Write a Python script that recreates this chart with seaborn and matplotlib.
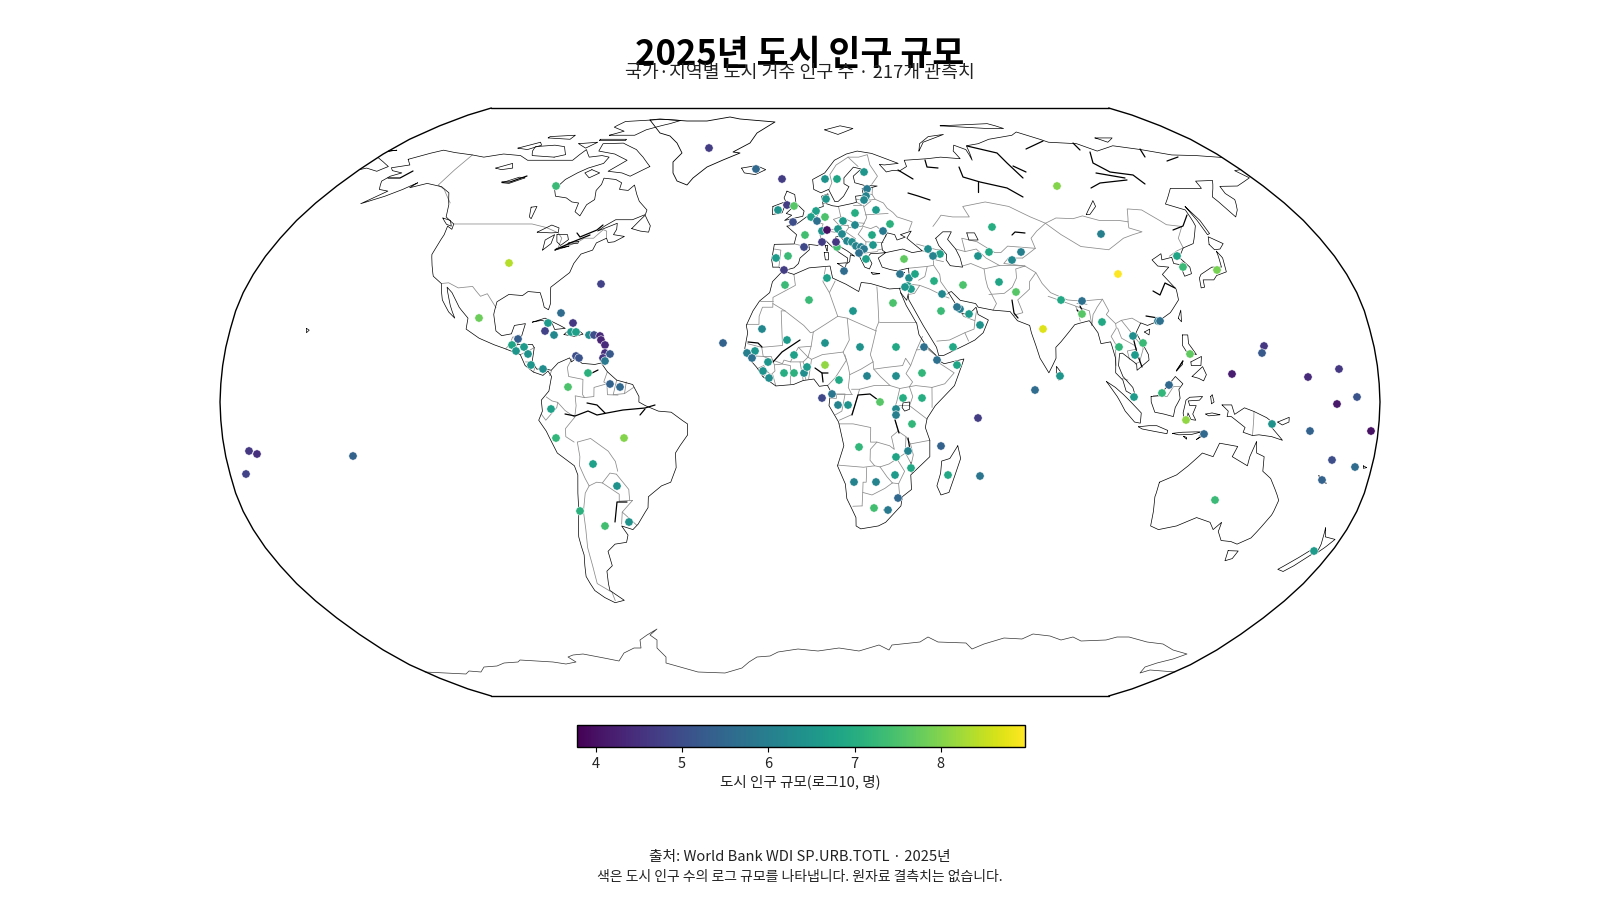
import numpy as np
import pandas as pd
import matplotlib
matplotlib.use("Agg")
import matplotlib.pyplot as plt
import seaborn as sns

sns.set_theme(style="white")
plt.rcParams['font.family'] = ['Noto Sans CJK KR', 'DejaVu Sans']

# Robinson table, 5 degree steps
rob_lat = np.arange(0, 95, 5)
rob_len = [1, .9986, .9954, .99, .9822, .973, .96, .9427, .9216, .8962, .8679, .835, .7986, .7597, .7186, .6732, .6213, .5722, .5322]
rob_dfe = [0, .062, .124, .186, .248, .31, .372, .434, .4958, .5571, .6176, .6769, .7346, .7903, .8435, .8936, .9394, .9761, 1]

# coastlines, lon/lat
americas = [[-166,68.3],[-160,70.3],[-156.5,71.3],[-150,70.5],[-141,69.7],[-135,69],[-128,70],[-120,69.5],[-115,68],[-108,68],[-100,68],[-96,68],[-94,71.5],[-90,69],[-85,69.5],[-81.5,69],[-82,67],[-87,65.5],[-90,64],[-93,62],[-94.5,59],[-92.5,57],[-88,56.5],[-85,55.3],[-82.3,55],[-82,52.5],[-79.5,51.3],[-79,54.5],[-77,56],[-78.3,58.7],[-77.5,60.5],[-78,62.4],[-73,62],[-70,61],[-69.5,59],[-66,58.7],[-64.5,60.3],[-62,57.5],[-60,55.5],[-56,53],[-56,51.7],[-60,50.2],[-66,50.2],[-69,48.5],[-71,47],[-65,49.2],[-64.5,47.5],[-65,46],[-61,45.5],[-64,44],[-66,43.8],[-67,45],[-70,43.7],[-70.5,41.7],[-74,40.6],[-75.5,38],[-76,35.5],[-78,33.9],[-81,31.5],[-80,27],[-80.3,25.3],[-81.8,26],[-82.8,28],[-84,30],[-88,30.3],[-89.5,29.2],[-94,29.5],[-97.3,27.5],[-97.5,24],[-96,19.5],[-94,18.2],[-91,18.7],[-90.4,21],[-87,21.5],[-87.7,18],[-88.7,15.8],[-84,15.8],[-83.3,14.9],[-83.6,11],[-82,9],[-80,9.2],[-77.5,8.7],[-75.5,10.7],[-72,12.1],[-71.3,11],[-70,12],[-68,10.6],[-64,10.3],[-62,10.7],[-60,8.3],[-57,6],[-52,4.8],[-50,1.5],[-50,0],[-48,-1],[-44,-2.5],[-40,-2.8],[-37,-4.8],[-35,-6],[-35,-9],[-37.5,-12],[-39,-14],[-39,-18],[-41,-22],[-44,-23],[-48.5,-26],[-49,-29],[-53,-33.5],[-55,-35],[-58.5,-34],[-57,-36.5],[-58,-38.5],[-62,-39],[-65,-41],[-65,-45],[-67.5,-46.5],[-68.5,-50],[-69,-52],[-65.2,-54.8],[-69,-55.5],[-72,-54],[-74.5,-52],[-75.5,-48],[-73.5,-42],[-73.5,-37],[-71.5,-30],[-70.2,-20],[-71,-17.5],[-76,-14],[-79,-8],[-81.2,-5],[-80,-2.5],[-80.3,0.5],[-78,3],[-77.3,7],[-78.5,8.5],[-80,7.3],[-83,8.2],[-85.7,10],[-87.5,13],[-92,14.5],[-96,15.7],[-101,17.5],[-105.5,20],[-105.5,23],[-109,26],[-112.5,30],[-114.7,31.5],[-112,26.5],[-109.7,23],[-112,24.7],[-115,28],[-117,32.5],[-120.5,34.5],[-122.5,37.5],[-124.3,40.5],[-124,46],[-124.7,48.4],[-122.5,47.5],[-123,49],[-127.5,51],[-130,54.5],[-134,58],[-139,59.8],[-146,60.8],[-151,59.5],[-150,61],[-153,59],[-157,57],[-163,54.8],[-158,58.5],[-162,59],[-165,61.5],[-164,63],[-161,64],[-166,64.7],[-168,65.6],[-162,66.5],[-166,68.3]]
eurasia_n = [[-9,37],[-9.5,39],[-8.8,43.3],[-2,43.4],[-1.2,46],[-4.7,48.4],[-1.6,48.7],[1.5,50.5],[4,52],[6,53.4],[8.6,54],[8.2,57],[10.6,57.7],[10.8,56],[9.8,54.8],[12,54.2],[14,54],[18.5,54.7],[21,55.2],[21,57],[24,57.3],[24,59.3],[28,59.6],[30,60],[25,60.2],[21.5,61],[21.3,63],[25,65.2],[22,65.8],[17.5,62.5],[17.2,60.7],[19,59.8],[16.5,57],[14.3,55.5],[13,55.4],[11,59],[8,58],[5.3,59],[5,62],[10,64],[14.5,68],[20,70],[25,71],[31,70.2],[41,67],[35,66.5],[33,66.7],[35,64.3],[38,64.8],[40.5,64.6],[44,66],[44,68],[54,68.5],[60,69],[68,68.5],[67,71],[69,73],[73,71.5],[72.7,68],[74.5,72.8],[80.5,73.5],[87,75],[100,76.5],[104,77.7],[113,74],[125,73.5],[130,71],[140,72.8],[150,71.5],[160,69.7],[170,69.5],[180,68.9]]
chukotka = [[-180,68.9],[-175,67.5],[-170,66],[-172,64.5],[-178,65.5],[-180,65]]
eurasia_e = [[180,65],[177,64.7],[179,62.5],[170,60],[163,59.9],[162,57.8],[163,56],[160,53],[157,51],[155.7,56.8],[163,61.7],[156,61.5],[155,59.3],[143,59.3],[135.5,54.7],[141,53],[140,48.5],[135,43.5],[130.7,42.3],[127.5,39.7],[129.5,37],[129,35.2],[126.4,34.5],[126.5,37.7],[124.7,38],[125,39.7],[121.3,39],[122,40.7],[118,39],[119,37.3],[122.5,37],[119.3,35],[122,31],[121.7,28],[118,24.5],[114,22.3],[110,21],[108,21.7],[106,19],[109,13],[109,11.5],[105,8.7],[105,10.4],[100.9,13.4],[100,13.3],[99.3,10],[100.5,7],[103.4,4],[104.2,1.5],[101.3,3],[100.4,6],[98.3,8],[98.6,12],[97.6,16.5],[94.5,16],[94,19],[91.8,22.3],[89,21.7],[87,21.2],[82,16.5],[80.2,15],[80,12],[77.5,8],[75,12],[73,19],[72.7,21],[69,22.3],[67,24.8],[61.6,25.2],[57,26],[56.3,27],[51.5,27.9],[49,30.3],[48,30],[50,26.7],[51.5,25.5],[51.6,24.2],[54,24.2],[56.3,26],[56.7,24],[59.8,22.5],[57.8,19],[55,17],[52,15.7],[45,12.8],[43.4,12.7],[42.8,15],[39,21],[35,28],[34.9,29.5],[34.3,27.9],[32.6,29.9]]
med_north = [[32.3,31.2],[34.3,31.3],[35.9,35],[36,36.7],[32,36],[30,36.3],[27.3,37],[26.3,39.5],[29,41],[35,42],[38,41],[41.5,41.5],[37,45],[39,47],[35,46],[36.5,45.3],[33.5,44.5],[33,46],[30.5,46.5],[28,43.5],[28,41.7],[29,41],[26.2,40.8],[24,40.8],[23,40],[24,38],[23,36.5],[21.5,37],[19.5,41],[19,42],[15,44.5],[13.7,45.6],[12.3,45.3],[12.5,44],[14,42.5],[16,41.5],[18.4,40],[17,40.4],[16.6,38.5],[15.7,38],[16,39.5],[12.5,41.5],[10.5,43],[8.8,44.4],[6,43],[3,43.3],[3.2,41.8],[0,39.5],[-0.5,38],[-2,36.8],[-5.5,36],[-7,37],[-9,37]]
africa = [[32.6,29.9],[34,26.5],[37,21.5],[37.5,18.5],[39.5,15.5],[43.2,12.2],[43,11.5],[45,10.5],[51.2,11.8],[48,4.5],[42,-1],[39.5,-4.5],[39,-7],[40.5,-10.5],[40.7,-15],[35,-20],[35.5,-24],[32.7,-26],[32.5,-28.5],[28,-33],[25.7,-34],[20,-34.8],[18.4,-34],[18.2,-31.7],[15,-26.5],[14.4,-22.5],[11.8,-17.5],[13.7,-12],[12,-5.5],[9,-1],[9.5,3],[8.5,4.6],[6,4.3],[4.3,6.3],[1,5.9],[-2,4.8],[-7.5,4.4],[-11.5,6.9],[-13.5,9.5],[-15,11],[-17.3,14.7],[-16.5,19],[-17,21],[-15,25],[-13,27.7],[-9.8,30],[-9,33],[-6,35.7],[-5.5,35.9],[-2,35],[3,36.8],[10,37.3],[10.7,34],[15,32.3],[19,30.3],[20,32.8],[23,32.5],[29,31],[32.3,31.2],[32.6,29.9]]
islands = [
    [[-62,66],[-68,63],[-72,64],[-78,64.5],[-73,68],[-80,70],[-88,71],[-89,73.5],[-80,73.7],[-72,71.5],[-67,69],[-62,66]],
    [[-105,69],[-115,69.5],[-117,71],[-118,72.5],[-110,73],[-105,72.5],[-101,69.8],[-105,69]],
    [[-125,72],[-118,74],[-116,73],[-120,71.5],[-125,72]],
    [[-90,76.5],[-78,76.5],[-75,78.5],[-66,81],[-62,82.5],[-72,83],[-90,82],[-92,79.5],[-85,78],[-90,76.5]],
    [[-92,75],[-80,75],[-80,74.6],[-92,74.6],[-92,75]],
    [[-117,75.5],[-106,75],[-106,76.5],[-117,76],[-117,75.5]],
    [[-100,73.5],[-95,72],[-92,74],[-100,73.5]],
    [[-59.3,47.7],[-56,51.5],[-53,48.5],[-53,46.7],[-56,47],[-59.3,47.7]],
    [[-128.4,50.7],[-125,50],[-123.4,48.4],[-125.5,48.9],[-128.4,50.7]],
    [[-85,65],[-81,64],[-84,62.5],[-87,64],[-85,65]],
    [[-84.9,21.9],[-81,23],[-76,21],[-74.2,20.2],[-77.5,19.9],[-78.5,21.5],[-82,22.4],[-84.9,21.9]],
    [[-74.4,18.5],[-72.8,19.9],[-69.9,19.7],[-68.4,18.6],[-71,18],[-74.4,18.5]],
    [[-78.3,18.3],[-76.3,18.2],[-77,17.8],[-78.3,18.3]],
    [[-67.2,18.4],[-65.7,18.4],[-66.5,18],[-67.2,18.4]],
    [[-156,20.2],[-155,19.7],[-155.7,19],[-156,20.2]],
    [[-24,65.5],[-18,66.3],[-14,65],[-18,63.5],[-22.5,64],[-24,65.5]],
    [[12,78.5],[20,80],[26,79],[18,76.8],[12,78.5]],
    [[52,71],[56,74],[68,76.8],[60,76],[54,73.5],[52,71]],
    [[-5,58.5],[-2,57.5],[-1.5,55],[1.5,52.7],[1,51.2],[-5.5,50],[-3,51.5],[-5,52],[-3,53.5],[-5,55],[-6,56.5],[-5,58.5]],
    [[-10,54],[-6,55.2],[-5.7,54],[-6.5,52.2],[-10,51.7],[-10,54]],
    [[8.2,41],[9.7,41],[9.5,39],[8.5,39],[8.2,41]],
    [[12.5,38],[15.5,38.2],[15,36.7],[12.5,38]],
    [[8.6,43],[9.5,43],[9.2,41.4],[8.6,43]],
    [[23.5,35.5],[26.3,35.2],[24,35],[23.5,35.5]],
    [[32.3,35],[34.5,35.6],[33.5,34.7],[32.3,35]],
    [[49.3,-12],[50.4,-15.5],[47.5,-24.8],[45,-25.5],[43.5,-23],[44.4,-19.5],[44.5,-16.2],[47,-15.5],[49.3,-12]],
    [[80,9.7],[81.8,7.5],[80.5,6],[79.8,8],[80,9.7]],
    [[120.2,23],[121.5,25.2],[121,22],[120.2,23]],
    [[108.7,19.2],[110.5,20],[110,18.4],[108.7,19.2]],
    [[142,54],[143,50],[143,46.3],[142,46],[142,50],[142,54]],
    [[141.3,41.4],[140,37],[136.8,37],[132,35],[131,34],[130.3,31.3],[131.5,31.5],[132,33.5],[135.5,33.5],[137,34.7],[140.8,35.7],[142,39.5],[141.3,41.4]],
    [[140.3,43.3],[141.7,45.4],[145.3,43.5],[143,42],[141,41.8],[140.3,43.3]],
    [[120.5,18.4],[122.2,18.4],[122,16],[124,13],[121,13.8],[120,15.5],[120.5,18.4]],
    [[122,11],[125.5,12.5],[125,10],[122,10],[122,11]],
    [[122,7],[125.5,9.7],[126.5,7.5],[125.5,5.8],[124,6.5],[122,7]],
    [[117.2,8.5],[119.5,11.3],[119.3,10.3],[117.2,8.5]],
    [[95.3,5.6],[98,4],[100.5,2],[103.8,-1],[106,-3],[105.8,-5.8],[104,-5.5],[101,-2.5],[98.5,1.5],[95.3,5.6]],
    [[105.3,-6.8],[108.5,-6.5],[111,-6.5],[114.5,-7.8],[114.3,-8.7],[110,-8],[106.5,-7.4],[105.3,-6.8]],
    [[109,1.5],[111,1.7],[113,3.2],[116.8,7],[119,5],[117.7,3.5],[118,1],[116.5,-1.5],[116,-4],[113,-3.3],[110.2,-2.8],[109,0],[109,1.5]],
    [[119.5,-5.5],[119,-3],[119.8,0.5],[121,1.3],[125,1.5],[124,0.5],[120.5,0.3],[121,-1],[123,-1],[122,-3.3],[123,-5],[121.5,-4.8],[120.5,-3],[120.3,-5.5],[119.5,-5.5]],
    [[127.5,1.5],[128,2],[128.5,0],[127.7,-0.5],[127.5,1.5]],
    [[126,-3.3],[128,-3],[130.5,-3.5],[127,-3.8],[126,-3.3]],
    [[116,-8.6],[119,-8.3],[123,-8.2],[125,-8.2],[122,-8.9],[118,-9],[116,-8.6]],
    [[119.5,-9.4],[120.5,-9.7],[120.5,-10.2],[119.5,-9.4]],
    [[123.6,-10.3],[127,-8.4],[125,-9.3],[123.6,-10.3]],
    [[131,-0.8],[134,-0.8],[135,-3.4],[138,-1.6],[141,-2.6],[145,-4.3],[147.5,-6],[146.8,-7],[150.5,-10.5],[147,-9.5],[143,-9],[141,-9.2],[138,-8.3],[138.5,-7],[134,-4],[132.7,-4],[133,-2.5],[131,-0.8]],
    [[148.5,-5.5],[152,-4.2],[152,-5.5],[150,-6.3],[148.5,-5.5]],
    [[114,-22],[113.5,-26],[115,-34],[118,-35],[123.5,-34],[129,-31.7],[134,-33],[136,-35],[137.8,-33],[138,-35.5],[140.5,-38],[144,-38.3],[146.5,-39],[150,-37.3],[153,-31],[153.5,-27],[149,-21],[146,-19],[145.5,-15],[143,-14],[142.5,-10.8],[141,-15],[140.8,-17.5],[135.5,-15],[136.8,-12.2],[131,-11.3],[129.5,-15],[126,-14],[122.2,-17.5],[119,-20],[114,-22]],
    [[144.8,-40.8],[148.3,-40.9],[148,-43],[146,-43.6],[144.8,-40.8]],
    [[172.7,-34.5],[174.5,-37],[178.3,-37.7],[177,-39.5],[175.3,-41.6],[174.7,-39],[172.7,-34.5]],
    [[172.7,-40.6],[174.2,-41.7],[171,-45],[169,-46.6],[166.5,-46],[170.5,-42.7],[172.7,-40.6]],
    [[164,-20.2],[167,-22.3],[165,-21.5],[164,-20.2]],
    [[177.3,-17.5],[178.5,-18],[177.5,-18.2],[177.3,-17.5]],
    [[70,80],[95,81],[100,79],[92,79],[70,80]],
    [[137,75.5],[145,75.5],[140,74],[137,75.5]],
    [[-180,71],[-177,71.3],[-180,70.9]],
]
lakes = [
    [[47,45],[50,46.8],[53,46.8],[51,44.7],[53,42],[53.8,39.5],[54,37],[50,37.4],[49,39],[49.5,40.5],[47.5,43],[47,45]],
    [[58.3,46.5],[61,46.5],[61.5,44.5],[58.3,44.5],[58.3,46.5]],
    [[-92,46.7],[-88,48.7],[-85,47.9],[-84.6,46.6],[-87,46.5],[-92,46.7]],
    [[-87.5,41.7],[-88,44.5],[-85.5,46],[-85.5,43.5],[-87.5,41.7]],
    [[-84.7,46],[-81,46],[-80,44.6],[-82,43],[-83.7,44],[-84.7,46]],
    [[-83.3,41.7],[-79,42.8],[-83,42.2],[-83.3,41.7]],
    [[-79.7,43.3],[-76.3,43.6],[-76.3,44.1],[-79.5,43.8],[-79.7,43.3]],
    [[-99,53.8],[-97,54],[-96.5,50.5],[-97.5,51],[-99,53.8]],
    [[-117,61],[-112,62.7],[-109.5,62.5],[-114,60.8],[-117,61]],
    [[-125,65.5],[-120,67],[-118,65.5],[-122,65],[-125,65.5]],
    [[32,-0.2],[34,0],[34,-2],[32.5,-2.5],[31.7,-1.5],[32,-0.2]],
    [[103.7,51.7],[105.5,53],[109.5,55.7],[109,54],[105,51.7],[103.7,51.7]],
]
borders = [
    [[-123,49],[-95.2,49],[-89.5,48],[-84.5,46.5],[-82.5,45],[-82.5,42.5],[-79,43],[-76,44.2],[-74.7,45],[-71.5,45],[-69.2,47.4],[-67.8,47],[-67,45]],
    [[-141,69.7],[-141,60.3],[-137,59],[-130,55]], [[-117,32.5],[-114.7,32.7],[-111,31.3],[-106.5,31.7],[-103,29],[-101,29.7],[-97.2,25.9]],
    [[-92.2,14.6],[-91,16],[-90.5,17.8],[-89,17.9],[-88.3,18.4]], [[-89.2,17.9],[-89.2,15.9]], [[-88.7,15.8],[-89.3,14.4],[-90.1,13.8]], [[-89.3,14.4],[-87.8,13.4]],
    [[-87.5,13],[-85,14],[-83.2,15]], [[-85.7,11],[-83.7,10.9]], [[-83,8.2],[-82.6,9.5]], [[-77.4,8.6],[-77.9,7.2]],
    [[-71.3,11.8],[-72.5,9.5],[-72,7],[-67.5,6.2],[-67.5,2],[-66.9,1.2]], [[-66.9,1.2],[-69.8,1.7],[-69.5,-1],[-70,-4.2]], [[-78.8,1.4],[-77,0.3],[-75.2,-0.1]],
    [[-75.2,-0.1],[-73,-2.3],[-70,-4.2]], [[-80.3,-3.4],[-79,-5],[-75.5,-1.5],[-75.2,-0.1]], [[-70,-4.2],[-73,-7.3],[-73,-9.5],[-70.5,-11]], [[-69.5,-11],[-69,-15],[-69.4,-17.5]],
    [[-69.5,-11],[-65.3,-10],[-60,-13.5],[-58,-16.3],[-57.5,-19]], [[-69.4,-17.5],[-68,-21],[-67,-23]], [[-67,-23],[-64.5,-22],[-62.7,-22.2]], [[-62.7,-22.2],[-60,-19.5],[-58,-19.8]],
    [[-62.7,-22.2],[-57.7,-25.3],[-58,-27.2],[-54.6,-27]], [[-58,-19.8],[-56,-22.2],[-54.5,-24],[-54.6,-27]], [[-67,-23],[-68.5,-25],[-70,-30],[-70.5,-35],[-71.5,-40],[-71.8,-45],[-72.5,-50],[-69,-52.2]],
    [[-54.6,-27],[-53.7,-27],[-57.5,-30.2]], [[-57.5,-30.2],[-53.5,-33.8]], [[-58.4,-33.5],[-57.5,-30.2]], [[-60,8.3],[-61,5.5],[-60,5]], [[-67,1.2],[-64,1.5],[-64,4],[-60,5]],
    [[-60,5],[-59.8,2],[-56.5,1.9]], [[-57,6],[-58,2]], [[-54,5.5],[-54.5,2.3]], [[-58,2],[-54.5,2.3],[-51.7,4]], [[-68.5,-52.2],[-68.6,-54.9]],
    [[-1.8,43.4],[3.2,42.4]], [[-8.8,42],[-6.5,41.7],[-7,37.2]], [[2.5,51],[4.2,50],[6,49.5],[8.2,49],[7.6,47.6],[6.9,47.3],[7,45.9],[7.5,43.8]], [[3.4,51.4],[6,51],[7,52.3],[7.2,53.3]],
    [[6,49.5],[6.1,50.7]], [[8.6,54.9],[9.9,54.8]], [[14.2,53.9],[14.7,51]], [[12,50.3],[14.7,51]], [[12,50.3],[13.8,48.7]], [[13.8,48.7],[13,47.5],[9.6,47.5]], [[7,45.9],[10.4,46.9]],
    [[10.4,46.9],[13.7,46.5]], [[14.7,51],[18.8,49.5],[22.8,49.2]], [[22.8,49.2],[24,50.8],[23.5,53.9],[23.5,54.3]], [[19.7,54.4],[23,54.4]], [[21,55.3],[22.8,54.4]], [[23.5,53.9],[26.5,55.6]],
    [[21,56.1],[26.5,55.9],[28.2,56.1]], [[24.3,57.9],[27.4,57.5]], [[28,59.5],[27.4,57.5],[28.2,56.1],[31,55],[32,53.5],[33.8,52.3],[35,51],[40,49.6],[38.2,47.1]], [[23.6,51.6],[32,52]],
    [[22.8,49.2],[22.1,48.4],[24.9,47.7],[27,48.4],[30,46],[29.7,45.3]], [[13.8,48.7],[16.9,48.7]], [[16.9,48.7],[17.2,48],[16,46.8],[13.7,46.5]], [[17.2,48],[22.1,48.4]], [[22.1,48],[20.3,46.1]],
    [[22.7,44],[28.6,43.8]], [[20.3,46.1],[22.7,44],[22.4,42.3],[20.6,41.9],[19.3,42.2],[19.2,43.5],[19,45],[16,46.8]], [[15.8,45],[19,45]], [[20,39.7],[21,40.8],[26.3,41.3]], [[26.3,41.7],[28,42]],
    [[11.2,59],[12.5,61],[12,63.5],[15,66.5],[20.5,69]], [[20.5,69],[24,66]], [[20.5,69],[25,69],[29,69.8],[29,66.5],[31,63],[28,60.5]], [[36,36.7],[42.3,37.2],[44.5,37.5],[44.8,39.7],[43.5,41.1],[41.5,41.5]],
    [[40,43.4],[46.5,41.8],[48.5,41.8]], [[43.5,41.1],[46.5,41],[45.5,39],[48,38.5]], [[42.3,37.2],[41,34.4],[38.8,33.4]], [[36,32.3],[39,32],[37,29.8],[35,29.5]], [[35.7,34.6],[36.5,34.5],[35.1,33.1]],
    [[35.1,33.1],[35.5,31],[34.9,29.5]], [[39,32],[42,31],[46.5,29],[48,28.5]], [[44.5,37.5],[46,35],[46,33],[48,30]], [[46.5,29.2],[48,29.8]], [[43,16.7],[47,17],[52,19],[55,20],[55.5,22.3],[52,23.5],[51.6,24.2]],
    [[52,19],[53,16.7]], [[55.5,22.3],[56.3,25]], [[54,37.3],[57,38],[61,36.5],[60.8,34],[61,31.5],[63,27],[61.6,25.2]], [[61,29.5],[66,29.8],[69,31.5],[71,34],[71.5,36.5],[74.8,37.3]], [[61,36.5],[66,37.4],[70,37.5],[74.8,37.3]],
    [[68,23.8],[71,24.5],[70,28],[74.5,31],[75,33],[77.8,35.5]], [[74.8,37.3],[77.8,35.5],[79,32.5],[81,30],[86,28],[88.5,27.8],[92,27.8],[97.3,28.2],[98.5,25],[97.5,24],[100,21.5],[102,22.4],[105.5,23],[108,21.6]],
    [[80,29],[88,26.4]], [[88.8,27],[92,26.8]], [[88.2,26.3],[88.7,24.5],[88.9,22.2]], [[88.2,26.3],[92.3,25],[92.4,21]], [[92.4,21],[93.3,24],[95,26],[97.3,28.2]], [[98.5,10],[99,16],[98,18],[100,20.3],[100,21.5]],
    [[100.4,20.3],[101.2,17.5],[105,15.5],[105.5,14.5]], [[105.5,14.5],[102.5,14],[102.9,11.7]], [[102,22.4],[104.5,19],[107.5,15],[107.5,14.5]], [[107.5,14.5],[106,11],[104.5,10.4]], [[100.2,6.5],[102,6]],
    [[47,48.3],[51,51.5],[55,51],[61,51],[60,54],[69,55.3],[77,54],[83,51],[87.3,49.2]], [[87.3,49.2],[92,50.7],[98,50.5],[102,51.3],[107,50],[114,50],[117,49.6]], [[87.3,49.2],[91,46],[96,42.7],[105,41.8],[112,45],[116,46],[119.8,46.8],[116,47.9],[117,49.6]],
    [[117,49.6],[120,53.3],[125,53],[130,48.8],[135,48.3],[131,45],[130.7,42.3]], [[87.3,49.2],[83,47],[80,45],[80.2,42.2]], [[53,42],[56,41.3],[56,45],[61,44],[66,41],[68,41],[71,42.8],[80.2,42.2]], [[56,41.3],[60,42],[62.5,39.5],[66.5,37.4]],
    [[74.8,39.5],[70,39.5],[68,38],[74.8,37.3]], [[80.2,42.2],[74.8,39.5]], [[124.4,40],[128,41.5],[130.7,42.3]], [[126.7,37.8],[128.4,38.6]],
    [[-2,35],[-1.5,32],[-8.7,28.7],[-8.7,27.7]], [[-13,27.7],[-8.7,27.7]], [[-17,21.3],[-13,21.3],[-13,23.5],[-12,26],[-8.7,26],[-8.7,27.3]], [[-8.7,27],[-4.8,25]], [[-12,15],[-5.5,15.5],[-6,25],[-4.8,25]], [[-4.8,25],[1.2,21],[3.3,19],[4.2,19.2]],
    [[4.2,19.2],[12,23.5]], [[12,23.5],[9.5,30],[7.5,33],[8.5,36.9]], [[9.5,30],[11.5,33.2]], [[12,23.5],[15,23],[24,19.5]], [[25,31.6],[25,22]], [[24,19.5],[24,20],[25,22]], [[25,22],[36.9,22]], [[15,23],[15.5,17],[13.5,13.7]],
    [[3.6,11.7],[7,13],[13.5,13.7]], [[13.5,13.7],[14.5,11.5],[11,6.7],[8.7,4.6]], [[14,13],[15,9.9],[15.5,7.5]], [[15.5,7.5],[19,9],[22.8,11]], [[24,19.5],[22,13],[22.8,11]], [[23,9],[27,9.5],[32,10],[33,12],[34.5,10]],
    [[38.6,18],[36.5,14.3],[34.5,10]], [[36.5,14.3],[40,14.5],[43,12.4]], [[42.9,11],[48,8],[45,5],[41,4]], [[41,4],[36,4.5],[34,4.2]], [[22.8,11],[23,9],[25,7],[28,4.5],[31,3.7],[34,4.2]], [[34,4.2],[35,5.5],[33,7.8],[34.5,10]],
    [[15.5,7.5],[15,4],[16,2.2]], [[16,3.5],[18.5,3.5],[23,4.5],[28,4.5]], [[11,2.2],[14,2.2],[13,-2.5],[11,-3.5]], [[9.8,2.2],[11.3,2.2],[11.3,1],[9.5,1]], [[9.8,2.2],[16,2.2]], [[18.5,3.5],[17,-1],[16,-3.5],[12.2,-5]],
    [[12.2,-6],[16.5,-6],[22,-7],[22,-11],[24,-11]], [[24,-11],[28,-12],[29.5,-13],[28.5,-9.5],[30.5,-8]], [[30.5,-8],[29.5,-4.5],[29,-2.5],[30,0],[31,3.7]], [[34,4.2],[35,1.5],[34,-1],[30,-1]], [[30,-1],[30.8,-2.5],[29.5,-4.5]],
    [[34,-1],[39.5,-4.7]], [[41,4],[41,-1.5]], [[30.5,-8],[33,-9.5],[34.5,-11.5],[40.5,-10.5]], [[33,-9.5],[33,-14],[35,-17],[35.5,-14.5],[34.5,-11.5]], [[33,-14],[30.4,-15.6]], [[30.4,-15.6],[28,-17],[25.2,-17.8]],
    [[24,-11],[22,-13],[22,-16],[23.5,-17.5],[25.2,-17.8]], [[11.8,-17.3],[20,-17.9],[23.5,-17.5]], [[21,-18],[21,-22],[20,-22],[20,-28.5]], [[20,-28.5],[17,-28.6]], [[20,-24.8],[23,-25.5],[27,-23.7],[29.3,-22.2]], [[25.2,-17.8],[27.5,-20.5],[29.3,-22.2]],
    [[30.4,-15.6],[33,-19],[31.3,-22.4],[29.3,-22.2]], [[31.3,-22.4],[32,-26.8],[32.8,-26.8]], [[27,-29.6],[28.5,-28.7],[29.4,-29.6],[28,-30.6],[27,-29.6]], [[30.8,-25.7],[32,-26],[31.9,-27.2],[30.8,-26.8],[30.8,-25.7]],
    [[-16.5,16],[-12,15],[-11.5,12.5],[-13.7,12.6],[-16.7,12.4]], [[-13.7,12.6],[-15,11]], [[-11.5,12.5],[-9,12.5],[-8,10.2],[-7.8,8.5],[-9,7.5],[-10.5,8.5],[-11.3,10],[-13.2,9.2]], [[-11.5,6.9],[-10,8.5]], [[-8.5,7.5],[-7.5,4.4]],
    [[-11.5,12.5],[-5.5,10.5],[-5,11.5],[-3,11],[-0.5,15],[3.5,15.3],[4.2,19.2]], [[-8,10.2],[-5.5,10.4],[-3,10],[-3,5]], [[-3,11],[0,11],[1,5.9]], [[0,11],[1,11],[1.8,6.2]], [[1,11],[2.5,12.3],[3.6,11.7],[2.7,6.4]], [[-0.5,15],[2.5,12.3]], [[3.5,15.3],[2.5,12.3]],
    [[141,-2.6],[141,-9.2]], [[109.7,1.7],[114,1.5],[116,4.2],[118,4.3]], [[124.3,-9.3],[125,-9]],
]

# in picture pixels
greenland_px = [(650,120),(660,133),(670,136),(677,143),(682,153),(673,162),(673,173),(677,181),(687,185),(693,178),(707,167),(723,160),(740,153),(733,152),(750,143),(757,133),(770,125),(775,122),(740,119),(730,117),(707,121),(687,121),(660,119),(650,120)]
antarctica_px = [(425,672),(466,674),(469,671),(481,672),(484,667),(497,666),(504,663),(518,662),(520,660),(553,662),(566,664),(576,662),(568,657),(573,655),(583,654),(604,658),(619,661),(624,653),(634,648),(641,648),(640,640),(647,635),(657,629),(650,635),(657,640),(657,648),(666,657),(666,663),(698,672),(725,673),(742,668),(749,662),(757,657),(770,656),(778,652),(798,649),(818,651),(839,648),(859,651),(879,645),(889,650),(892,645),(920,642),(928,637),(938,642),(966,643),(972,649),(984,644),(1004,638),(1022,639),(1033,634),(1050,636),(1061,640),(1073,637),(1081,641),(1106,640),(1117,637),(1129,637),(1147,642),(1163,644),(1173,650),(1187,654),(1173,659),(1157,663),(1145,667),(1140,673),(1150,670),(1175,672)]
rivers_px = [
    [(925,160),(927,167),(938,168)], [(959,167),(963,177),(980,182),(1007,188),(1023,197)], [(978,182),(978,192)], [(967,146),(997,153),(1007,163),(1023,178)],
    [(1013,166),(1026,172)], [(1026,149),(1043,141)], [(1090,152),(1093,163),(1110,172),(1133,175),(1145,184)], [(1096,173),(1125,178)], [(1091,188),(1100,183),(1127,180)],
    [(908,193),(918,196),(930,200)], [(898,170),(913,179)], [(1173,230),(1183,226),(1187,215)], [(1167,161),(1178,157)], [(1140,149),(1145,157)], [(1073,143),(1080,150)],
    [(1012,300),(1014,313),(1018,318)], [(1077,310),(1082,315)], [(1080,306),(1082,310)], [(1133,337),(1137,353),(1142,367)], [(1153,291),(1160,295),(1165,283),(1175,288)], [(1146,316),(1158,318)],
    [(1012,235),(1015,232),(1025,233)], [(748,342),(758,343),(762,347)], [(773,362),(782,352),(800,340)], [(815,368),(822,373),(828,373)], [(822,373),(823,382)],
    [(852,415),(858,395),(870,394),(878,400)], [(895,420),(899,433)], [(908,438),(910,450)], [(911,463),(912,472)],
    [(565,414),(575,416),(588,411),(597,415),(607,413),(623,410),(645,408),(655,405)], [(587,403),(597,405),(605,413)], [(615,522),(617,502),(627,502)], [(645,409),(640,415)], [(588,375),(598,370)],
    [(577,233),(580,237),(597,230),(603,225)], [(555,250),(570,243),(590,235)], [(388,178),(400,178),(413,171)], [(502,182),(510,182),(527,176)], [(1177,370),(1183,361)],
]

# urban population per country, dots (px)
pop_px = [756,782,825,837,864,867,866,864,826,787,794,778,793,816,811,817,825,855,876,843,855,890,883,805,822,827,838,842,872,837,822,836,804,847,852,856,861,864,859,873,866,776,788,784,844,904,928,940,933,900,909,915,908,911,905,
          827,785,809,853,893,762,787,825,860,896,723,755,747,752,768,763,769,794,784,794,804,807,825,839,867,896,922,924,937,957,953,980,941,969,960,957,942,934,963,
          822,832,838,848,880,903,922,896,896,912,859,896,908,911,895,854,876,874,888,898,948,941,978,980,
          601,479,561,548,545,554,573,571,576,589,594,600,601,605,605,603,610,605,576,579,588,568,518,512,524,516,528,531,543,610,620,551,556,624,593,617,580,605,629,
          509,556,709,
          1057,992,978,989,1012,1021,1101,1118,1177,1183,1217,999,1016,1043,1061,1082,1082,1102,1119,1133,1143,1135,1158,1160,1060,1035,1190,1169,1162,1134,1186,
          1204,1272,1215,1314,1232,1264,1262,1308,1339,1337,1357,1310,1332,1355,1322,1371,249,257,246,353]
pop_py = [169,179,179,179,172,189,196,200,199,205,206,210,222,211,217,221,217,213,210,221,225,224,231,235,231,230,229,234,235,247,242,242,247,241,242,246,247,249,253,245,259,258,256,270,271,259,249,254,256,274,278,274,286,289,287,
          278,285,300,311,303,329,340,343,347,347,343,351,353,358,362,371,378,355,373,373,373,367,365,380,376,376,373,347,360,365,347,325,311,314,309,307,294,281,285,
          398,394,405,405,402,398,398,409,415,424,447,457,451,468,475,482,482,508,510,498,475,446,418,476,
          284,318,313,323,331,335,323,332,332,335,335,336,340,345,353,358,354,361,356,358,373,387,339,345,347,351,354,365,369,384,387,409,438,438,464,486,511,526,522,
          263,186,148,
          186,227,256,252,260,252,234,274,256,267,270,282,292,329,300,301,314,322,347,336,343,355,321,321,376,390,354,385,393,397,420,
          434,424,500,551,374,346,353,377,369,404,397,431,460,467,480,431,451,454,474,456]
pop_log = [5.5,4.7,6.4,6.8,6.5,5.9,6.1,6.2,6.5,4.7,7.6,6.4,5.0,6.7,6.7,5.7,7.5,7.0,6.6,6.6,6.2,7.1,5.9,7.4,6.4,4.0,6.5,6.2,6.9,7.4,4.7,4.6,4.9,6.2,6.3,6.1,6.0,5.9,5.7,6.5,6.7,6.6,7.3,4.7,5.6,7.7,6.3,6.7,6.1,5.8,6.3,6.8,6.6,6.6,6.5,
           6.7,7.3,7.3,6.5,7.5,6.2,6.6,6.4,6.4,6.9,5.4,6.5,6.0,5.7,6.5,6.4,6.3,6.7,7.0,7.1,6.3,6.6,8.1,6.9,6.1,6.3,7.2,5.7,5.7,6.8,6.9,6.4,7.3,6.6,6.0,5.8,6.2,7.0,7.5,
           4.9,5.8,6.1,6.4,7.6,7.0,7.0,6.2,6.0,7.2,7.2,6.8,6.1,6.9,6.6,6.1,6.1,7.4,5.9,5.5,6.9,5.4,4.7,5.8,
           4.8,7.8,5.6,6.6,4.8,6.2,4.6,6.6,6.7,6.3,5.0,4.4,4.3,4.4,4.5,4.6,5.2,5.9,5.0,5.1,7.1,7.5,5.3,6.8,6.6,6.5,6.4,6.5,6.3,5.4,5.5,6.7,7.2,8.0,6.7,6.4,7.1,7.4,6.4,
           8.4,7.3,4.7,
           8.0,7.0,6.4,6.9,6.2,6.0,6.0,8.97,6.8,7.3,7.9,6.8,7.6,8.7,6.9,5.7,7.6,6.9,7.2,6.3,7.3,6.6,5.9,5.7,6.5,5.6,7.7,5.5,7.2,6.6,8.1,
           5.5,6.4,7.3,6.6,4.2,4.6,5.2,4.4,4.6,4.1,5.1,5.4,5.0,5.6,5.4,4.0,4.6,4.5,4.8,5.4]

tick_vals = [4, 5, 6, 7, 8]
title_text = '2025년 도시 인구 규모'
subtitle_text = '국가·지역별 도시 거주 인구 수 · 217개 관측치'
cbar_label = '도시 인구 규모(로그10, 명)'
source_text = '출처: World Bank WDI SP.URB.TOTL · 2025년'
note_text = '색은 도시 인구 수의 로그 규모를 나타냅니다. 원자료 결측치는 없습니다.'

VMIN, VMAX = 3.775, 8.97
HALF_W, HALF_H = 580, 294  # frame size of the projection in figure pixels
CX, CY = 800, 402


def robinson(lon, lat):
    lon = np.asarray(lon, float)
    lat = np.asarray(lat, float)
    plen = np.interp(np.abs(lat), rob_lat, rob_len)
    pdfe = np.interp(np.abs(lat), rob_lat, rob_dfe)
    return HALF_W * plen * lon / 180, HALF_H * pdfe * np.sign(lat)


def draw_line(ax, pts, **kw):
    pts = np.array(pts, float)
    # a few extra points so that long segments bend with the projection
    t = np.arange(len(pts))
    tt = np.linspace(0, len(pts) - 1, (len(pts) - 1) * 4 + 1)
    x, y = robinson(np.interp(tt, t, pts[:, 0]), np.interp(tt, t, pts[:, 1]))
    ax.plot(x, y, solid_joinstyle='round', **kw)


def draw_traced(ax, pts, **kw):
    pts = np.array(pts, float)
    ax.plot(pts[:, 0] - CX, CY - pts[:, 1], solid_joinstyle='round', **kw)


fig = plt.figure(figsize=(16, 9), dpi=100)
ax = fig.add_axes([(CX - HALF_W) / 1600, 1 - (CY + HALF_H) / 900, 2 * HALF_W / 1600, 2 * HALF_H / 900])

for line in borders:
    draw_line(ax, line, color='#8a8a8a', lw=0.55, zorder=1)
for line in rivers_px:
    draw_traced(ax, line, color='black', lw=0.9, zorder=1.5)
for line in [americas, eurasia_n, chukotka, eurasia_e, med_north, africa] + islands + lakes:
    draw_line(ax, line, color='black', lw=0.5, zorder=2)
draw_traced(ax, greenland_px, color='black', lw=0.6, zorder=2)
draw_traced(ax, antarctica_px, color='#333333', lw=0.5, zorder=2)

# frame of the map
edge = np.linspace(-90, 90, 73)
fx, fy = robinson(np.full_like(edge, 180), edge)
ax.plot(fx, fy, color='black', lw=1.0, zorder=4, clip_on=False)
ax.plot(-fx, fy, color='black', lw=1.0, zorder=4, clip_on=False)
tx, _ = robinson(180, 90)
ax.plot([-tx, tx], [HALF_H, HALF_H], color='black', lw=1.0, zorder=4, clip_on=False)
ax.plot([-tx, tx], [-HALF_H, -HALF_H], color='black', lw=1.0, zorder=4, clip_on=False)

df = pd.DataFrame({'x': np.array(pop_px) - CX, 'y': CY - np.array(pop_py), 'log_pop': pop_log})
sns.scatterplot(data=df, x='x', y='y', hue='log_pop', palette='viridis', hue_norm=(VMIN, VMAX),
                s=36, edgecolor='white', linewidth=0.4, legend=False, ax=ax, zorder=3, clip_on=False)

ax.set_xlim(-HALF_W, HALF_W)
ax.set_ylim(-HALF_H, HALF_H)
ax.axis('off')

# colorbar
cax = fig.add_axes([576.5 / 1600, 1 - 747 / 900, 448 / 1600, 22 / 900])
sm = plt.cm.ScalarMappable(norm=plt.Normalize(VMIN, VMAX), cmap='viridis')
cb = fig.colorbar(sm, cax=cax, orientation='horizontal', ticks=tick_vals)
cb.outline.set_linewidth(1.0)
cb.outline.set_edgecolor('black')
cax.tick_params(axis='x', length=3.5, width=0.8, labelsize=10.5, pad=3.5, bottom=True, color='black', labelcolor='#222222')
cb.set_label(cbar_label, fontsize=10.5, labelpad=2.5, color='#222222')

fig.text(0.5, 1 - 54 / 900, title_text, ha='center', va='center', fontsize=25, fontweight='bold', color='black')
fig.text(0.5, 1 - 73 / 900, subtitle_text, ha='center', va='center', fontsize=13.2, color='#222222')
fig.text(0.5, 1 - 857 / 900, source_text, ha='center', va='center', fontsize=10.6, color='#222222')
fig.text(0.5, 1 - 877 / 900, note_text, ha='center', va='center', fontsize=10, color='#222222')

fig.savefig('out.png', dpi=100)
